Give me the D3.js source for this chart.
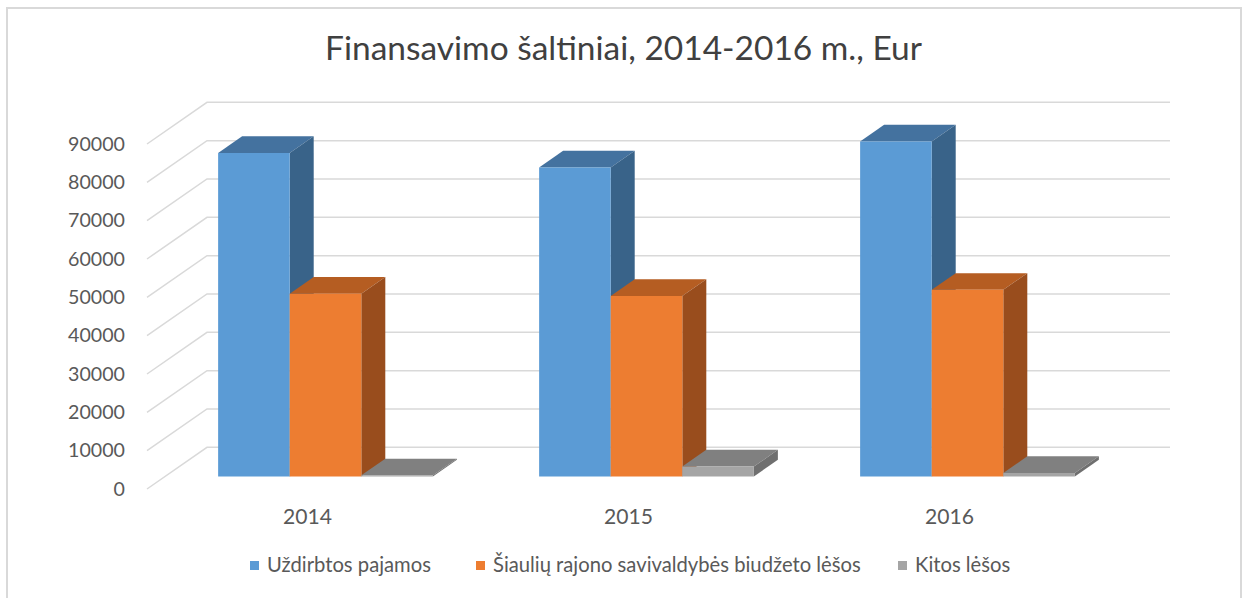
<!DOCTYPE html>
<html><head><meta charset="utf-8">
<script src="https://cdn.jsdelivr.net/npm/d3@7"></script>
<style>html,body{margin:0;padding:0;background:#fff;} svg{display:block;}</style>
</head><body>
<svg id="chart" width="1245" height="598"></svg>
<script>
// ---- data ----
const categories = ["2014", "2015", "2016"];
const seriesNames = ["Uždirbtos pajamos", "Šiaulių rajono savivaldybės biudžeto lėšos", "Kitos lėšos"];
const earnedIncome = [84400, 80600, 87400];
const municipalBudget = [47700, 47100, 48700];
const otherFunds = [300, 2600, 900];
const yTickValues = [0, 10000, 20000, 30000, 40000, 50000, 60000, 70000, 80000, 90000];
const titleText = "Finansavimo šaltiniai, 2014-2016 m., Eur";

const seriesValues = [earnedIncome, municipalBudget, otherFunds];
const faceColors = [
  {front: "#5b9bd5", top: "#44729f", side: "#396389"},
  {front: "#ed7d31", top: "#b55d22", side: "#994d1d"},
  {front: "#a5a5a5", top: "#808080", side: "#6f6f6f"}
];

const svg = d3.select("#chart");
const FONT = "Lato, 'Open Sans', sans-serif";

// frame
svg.append("rect").attr("x", 7).attr("y", 8).attr("width", 1234).attr("height", 620)
  .attr("fill", "#fff").attr("stroke", "#d9d9d9").attr("stroke-width", 2);

// geometry
const frontLeft = 147, frontRight = 1110, frontZeroY = 489;
const depthDX = 60, depthDY = -41.7;
const yH = d3.scaleLinear().domain([0, 90000]).range([0, 345]);
const x0 = d3.scaleBand().domain(categories).range([frontLeft, frontRight])
  .paddingInner(0.331).paddingOuter(0.1655);
const x1 = d3.scaleBand().domain(seriesNames).range([0, x0.bandwidth()]);
const proj = (x, v, d) => [x + d * depthDX, frontZeroY - yH(v) + d * depthDY];

// gridlines: side wall diagonals + back wall
const grid = svg.append("g").attr("stroke", "#d9d9d9").attr("stroke-width", 1.5).attr("fill", "none");
yTickValues.forEach(v => {
  const a = proj(frontLeft, v, 0), b = proj(frontLeft, v, 1), c = proj(frontRight, v, 1);
  grid.append("path").attr("d", `M${a[0]},${a[1]}L${b[0]},${b[1]}L${c[0]},${c[1]}`);
});

// bars
const d0 = 0.3, d1 = 0.7;
const poly = pts => "M" + pts.map(p => p.join(",")).join("L") + "Z";
categories.forEach((cat, ci) => {
  seriesNames.forEach((s, si) => {
    const v = seriesValues[si][ci];
    const xl = x0(cat) + x1(s), xr = xl + x1.bandwidth();
    const col = faceColors[si];
    const g = svg.append("g");
    // top
    g.append("path").attr("fill", col.top).attr("d", poly([
      proj(xl, v, d0), proj(xr, v, d0), proj(xr, v, d1), proj(xl, v, d1)]));
    // side
    g.append("path").attr("fill", col.side).attr("d", poly([
      proj(xr, 0, d0), proj(xr, v, d0), proj(xr, v, d1), proj(xr, 0, d1)]));
    // front
    g.append("path").attr("fill", col.front).attr("d", poly([
      proj(xl, 0, d0), proj(xr, 0, d0), proj(xr, v, d0), proj(xl, v, d0)]));
  });
});

function fit(sel, target) {
  const n = sel.node();
  const w = n.getComputedTextLength();
  const fs = parseFloat(sel.attr("font-size"));
  return fs * target / w;
}

// y axis labels
const yFront = d3.scaleLinear().domain([0, 90000]).range([frontZeroY, frontZeroY - yH(90000)]);
const yAxisG = svg.append("g").attr("transform", "translate(125,0)")
  .call(d3.axisLeft(yFront).tickValues(yTickValues).tickSize(0).tickPadding(0).tickFormat(d3.format("d")));
yAxisG.select(".domain").remove();
yAxisG.selectAll("text").attr("font-family", FONT).attr("font-size", 20).attr("fill", "#595959");
{
  const t = yAxisG.selectAll("text").filter(d => d === 90000);
  const fs = fit(t, 57);
  yAxisG.selectAll("text").attr("font-size", fs);
}

// x axis labels
const xFront = d3.scaleBand().domain(categories).range([frontLeft, frontRight]);
const xAxisG = svg.append("g").attr("transform", "translate(0,509)")
  .call(d3.axisBottom(xFront).tickSize(0).tickPadding(0));
xAxisG.select(".domain").remove();
xAxisG.selectAll("text").attr("font-family", FONT).attr("font-size", 20).attr("fill", "#595959");
{
  const t = xAxisG.selectAll("text").filter(d => d === "2014");
  const fs = fit(t, 49);
  xAxisG.selectAll("text").attr("font-size", fs);
}

// title
const title = svg.append("text").attr("x", 623.5).attr("y", 60).attr("text-anchor", "middle")
  .attr("font-family", FONT).attr("font-size", 30).attr("fill", "#404040").text(titleText);
title.attr("font-size", fit(title, 597));

// legend
const legendX = [250, 476, 898];
const lg = svg.append("g");
let legendFs = null;
seriesNames.forEach((s, i) => {
  lg.append("rect").attr("x", legendX[i]).attr("y", 561).attr("width", 9).attr("height", 9)
    .attr("fill", faceColors[i].front);
  const t = lg.append("text").attr("x", legendX[i] + 17).attr("y", 572)
    .attr("font-family", FONT).attr("font-size", 20).attr("fill", "#595959").text(s);
  if (i === 0) legendFs = fit(t, 164);
});
lg.selectAll("text").attr("font-size", legendFs);
</script>
</body></html>
